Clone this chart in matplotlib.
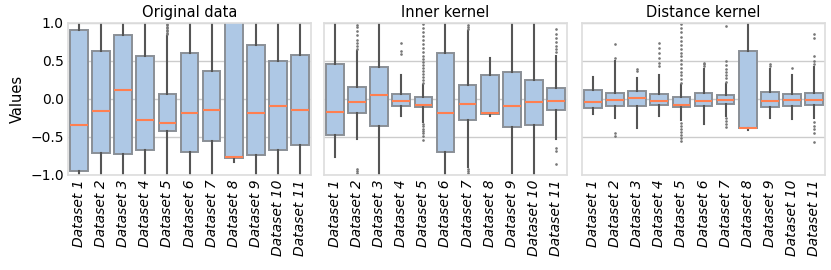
import matplotlib
matplotlib.use("Agg")
import matplotlib.pyplot as plt

plt.rcParams["font.family"] = ["DejaVu Sans"]

labels = [f"Dataset {i}" for i in range(1, 12)]
titles = ["Original data", "Inner kernel", "Distance kernel"]

# per-panel box statistics
orig_med = [-0.34, -0.155, 0.115, -0.27, -0.31, -0.19, -0.14, -0.76, -0.18, -0.09, -0.14]
orig_q1 = [-0.95, -0.71, -0.72, -0.67, -0.42, -0.695, -0.55, -0.775, -0.74, -0.67, -0.60]
orig_q3 = [0.91, 0.63, 0.845, 0.57, 0.07, 0.60, 0.37, 1.05, 0.71, 0.50, 0.58]
orig_lo = [-1.05, -1.05, -1.05, -1.05, -1.05, -1.05, -1.05, -0.83, -1.05, -1.05, -1.05]
orig_hi = [1.05, 1.05, 1.05, 1.05, 0.83, 1.05, 1.05, 1.05, 1.05, 1.05, 1.05]
orig_fl = [[], [], [], [], [0.85, 0.87, 0.89, 0.91, 0.93, 0.95, 0.97, 0.99], [], [], [], [], [], []]

inner_med = [-0.17, -0.036, 0.057, -0.03, -0.076, -0.19, -0.07, -0.19, -0.09, -0.04, -0.03]
inner_q1 = [-0.48, -0.18, -0.36, -0.09, -0.11, -0.695, -0.275, -0.195, -0.37, -0.34, -0.146]
inner_q3 = [0.455, 0.16, 0.42, 0.07, 0.02, 0.60, 0.18, 0.31, 0.36, 0.25, 0.145]
inner_lo = [-0.76, -0.52, -1.05, -0.22, -0.30, -1.05, -0.90, -0.22, -0.975, -1.05, -0.53]
inner_hi = [1.05, 0.63, 1.05, 0.31, 0.18, 1.05, 0.90, 0.535, 1.05, 1.05, 0.57]
inner_fl = [
    [],
    [0.66, 0.70, 0.74, 0.78, 0.84, 0.90, 0.95, 0.98, -0.92, -0.95, -0.97],
    [],
    [0.59, 0.63, 0.74],
    [0.21, 0.25, 0.29, 0.33, 0.37, 0.41, 0.45, 0.49, 0.53, 0.57, 0.62, 0.67, 0.72,
     0.77, 0.83, 0.88, 0.94, 0.99, -0.33, -0.36, -0.39, -0.42, -0.45, -0.49, -0.54],
    [],
    [0.92, 0.95, 0.98, -0.92, -0.95, -0.98],
    [],
    [],
    [],
    [0.62, 0.66, 0.70, 0.75, 0.80, 0.86, 0.92, -0.65, -0.68, -0.85],
]

dist_med = [-0.04, -0.013, 0.013, -0.03, -0.076, -0.02, -0.01, -0.38, -0.02, -0.01, -0.01]
dist_q1 = [-0.12, -0.09, -0.093, -0.085, -0.11, -0.09, -0.07, -0.385, -0.10, -0.09, -0.08]
dist_q3 = [0.12, 0.08, 0.11, 0.07, 0.02, 0.075, 0.05, 0.63, 0.09, 0.06, 0.075]
dist_lo = [-0.195, -0.25, -0.385, -0.22, -0.28, -0.33, -0.22, -0.41, -0.25, -0.26, -0.25]
dist_hi = [0.29, 0.50, 0.28, 0.32, 0.18, 0.40, 0.20, 1.05, 0.40, 0.32, 0.42]
dist_fl = [
    [],
    [0.54, 0.73, -0.45, -0.49],
    [0.37, 0.40],
    [0.44, 0.48, 0.54, 0.60, 0.67, 0.74],
    [0.21, 0.26, 0.31, 0.36, 0.41, 0.46, 0.51, 0.56, 0.61, 0.66, 0.71, 0.76, 0.82,
     0.88, 0.94, 0.99, -0.31, -0.35, -0.39, -0.43, -0.47, -0.51, -0.55],
    [0.43, 0.46, 0.48],
    [0.23, 0.27, 0.31, 0.35, 0.40, 0.45, 0.50, 0.96, -0.25, -0.29, -0.33, -0.37],
    [],
    [0.43, 0.46],
    [0.41],
    [0.46, 0.50, 0.57, 0.80, 0.85, -0.30, -0.35, -0.40, -0.45, -0.57],
]

panels = [
    (orig_med, orig_q1, orig_q3, orig_lo, orig_hi, orig_fl),
    (inner_med, inner_q1, inner_q3, inner_lo, inner_hi, inner_fl),
    (dist_med, dist_q1, dist_q3, dist_lo, dist_hi, dist_fl),
]

fig = plt.figure(figsize=(8.31, 2.70), dpi=100)
lefts = [68, 324, 582]
width = 243
axes = []
for k, (med, q1, q3, lo, hi, fl) in enumerate(panels):
    if k == 0:
        ax = fig.add_axes([lefts[k] / 831, 1 - 175 / 270, width / 831, 152 / 270])
    else:
        ax = fig.add_axes([lefts[k] / 831, 1 - 175 / 270, width / 831, 152 / 270], sharey=axes[0])
    axes.append(ax)
    stats = []
    for i in range(len(labels)):
        stats.append(dict(med=med[i], q1=q1[i], q3=q3[i], whislo=lo[i], whishi=hi[i],
                          fliers=fl[i], label=labels[i]))
    ax.bxp(stats, widths=0.8, patch_artist=True, showcaps=False,
           boxprops=dict(facecolor="#aec8e5", edgecolor="#8a8f96", linewidth=1.4),
           medianprops=dict(color="#ff7f50", linewidth=1.5),
           whiskerprops=dict(color="#555555", linewidth=1.5),
           flierprops=dict(marker="o", markersize=0.9, markerfacecolor="#777777",
                           markeredgecolor="#777777", linestyle="none"))
    ax.set_ylim(-1.0, 1.0)
    ax.set_xlim(0.5, 11.5)
    ax.set_yticks([-1.0, -0.5, 0.0, 0.5, 1.0])
    ax.yaxis.grid(True, color="#cccccc", linewidth=1.0)
    ax.set_axisbelow(True)
    for s in ax.spines.values():
        s.set_color("#dddddd")
        s.set_linewidth(1.2)
    ax.tick_params(axis="both", length=0, labelsize=10, pad=3)
    ax.set_xticks(range(1, 12))
    ax.set_xticklabels(labels, rotation=90, fontstyle="oblique", fontsize=10)
    ax.set_title(titles[k], fontsize=10.5, pad=4)
    if k == 0:
        ax.set_ylabel("Values", fontsize=10.5)
    else:
        ax.tick_params(axis="y", labelleft=False)

fig.savefig("out.png", dpi=100)
